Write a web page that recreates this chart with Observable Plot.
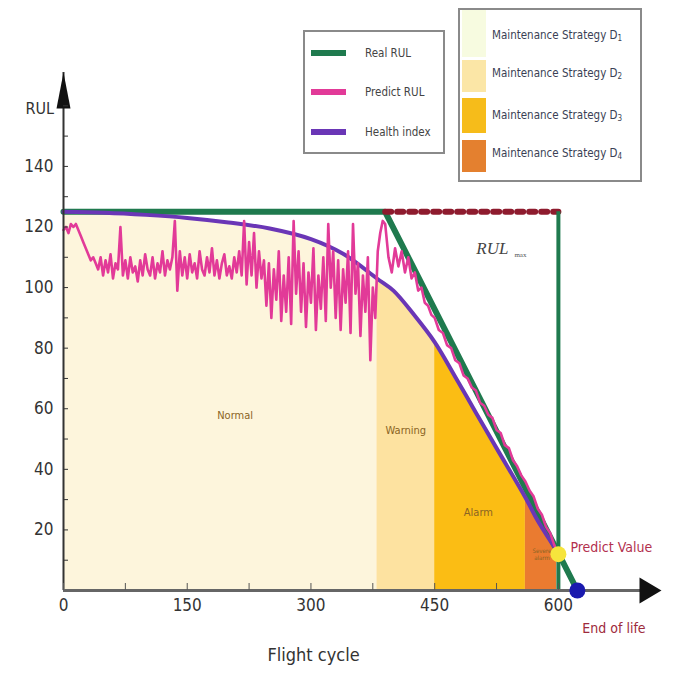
<!DOCTYPE html>
<html><head><meta charset="utf-8">
<script src="https://cdn.jsdelivr.net/npm/d3@7"></script>
<script src="https://cdn.jsdelivr.net/npm/@observablehq/plot@0.6"></script>
<style>
body{margin:0;background:#fff;}
#wrap{position:relative;width:673px;height:682px;overflow:hidden;font-family:"Liberation Sans Narrow","DejaVu Sans Condensed","Liberation Sans",sans-serif;}
#wrap svg{position:absolute;left:0;top:0;}
.box{position:absolute;border:2px solid #8a8a8a;background:#fff;box-sizing:border-box;}
.it{position:absolute;}
.tx{position:absolute;font-size:11.5px;color:#444;white-space:nowrap;line-height:12px;}
.tx sub{font-size:8px;vertical-align:-2px;line-height:0;}
</style></head>
<body><div id="wrap"></div>
<script>
// ---- data ----
const predCycle = [0,3,6,9,12,15,18,21,24,27,30,33,36,39,
42,45,48,51,54,57,60,63,66,69,72,75,78,81,84,87,90,93,96,99,102,105,108,111,114,117,120,123,126,129,132,
135,138,141,144,147,150,153,156,159,162,165,168,171,174,177,180,183,186,189,192,195,198,201,204,207,210,213,216,
219,222,225,228,231,234,237,240,243,246,249,252,255,258,261,264,267,270,273,276,279,282,285,288,291,294,297,300,
303,306,309,312,315,318,321,324,327,330,333,336,339,342,345,348,351,354,357,360,363,366,369,372,375,378,381,384,387,
390,394,398,402,406,410,414,418,422,426,430,434,438,442,446,450,455,460,465,470,475,480,485,490,495,500,505,510,515,520,
525,530,535,540,545,550,555,560,565,570,575,580,585,590,595,600];
const predRUL = [119,120,118,121,120,121,119,117,115,113,111,109,110,108,
106,110,104,109,105,111,103,108,106,120,104,109,103,110,105,107,102,109,104,111,106,104,110,103,108,105,112,104,109,106,110,
122,99,112,104,110,103,111,105,108,103,112,106,104,110,105,113,104,109,103,108,111,104,107,103,110,105,112,104,
122,101,115,104,118,100,112,103,109,94,108,90,106,96,112,89,104,92,110,88,122,98,112,92,108,87,105,95,
113,86,104,93,110,89,121,100,112,90,109,86,106,95,112,85,121,98,108,84,104,92,110,76,100,90,112,118,122,
121,110,105,113,107,112,105,110,103,105,99,100,95,94,91,90,86,85,81,80,76,75,71,70,67,66,62,61,58,57,
53,52,48,47,43,41,38,36,33,31,27,25,21,19,15,12];

const healthCycle = [0,50,100,150,200,250,300,340,380,400,425,450,475,500,525,560,575,598,600];
const healthIndex = [125,124.7,124,123,121.5,119.5,116,111,103,99,91,82,70.5,58.7,47,30.7,23,13,12];

const realCycle = [0,390,623];
const realRUL = [125,125,0];

const rulMaxCycle = [390,600];
const rulMaxValue = 125;

const zoneNames = ["Normal","Warning","Alarm","Severe\nalarm"];
const zoneStart = [0,380,450,560];
const zoneEnd = [380,450,560,598];
const zoneLabelX = [208,415,503,580];
const zoneLabelY = [58,53,26,12];

const predictPoint = {cycle: 600, rul: 12};
const endOfLife = {cycle: 623, rul: 0};

const xTicks = [0,75,150,225,300,375,450,525,600];
const xTickLabels = [0,150,300,450,600];
const yTicks = [10,20,30,40,50,60,70,80,90,100,110,120,130,140,150,160];
const yTickLabels = [20,40,60,80,100,120,140];

const legendLines = ["Real RUL","Predict RUL","Health index"];
const legendZones = ["Maintenance Strategy D<sub>1</sub>","Maintenance Strategy D<sub>2</sub>","Maintenance Strategy D<sub>3</sub>","Maintenance Strategy D<sub>4</sub>"];

// ---- styles ----
const zoneColors = ["#fdf5dc","#fde2a0","#fbbd14","#ea7b30"];
const legendZoneColors = ["#f7fbe0","#fbe6a6","#f6bc1a","#e4802f"];
const lineColors = ["#1f7a4e","#e23a98","#6a36b6"];
const xMax = 725, yMax = 171;
const FONT = '"Liberation Sans Narrow","DejaVu Sans Condensed","Liberation Sans",sans-serif';

// ---- build tables ----
const pred = predCycle.map((c,i)=>({cycle:c, rul:predRUL[i]}));
const health = healthCycle.map((c,i)=>({cycle:c, v:healthIndex[i]}));
const real = realCycle.map((c,i)=>({cycle:c, rul:realRUL[i]}));
const rulMax = rulMaxCycle.map(c=>({cycle:c, rul:rulMaxValue}));
const zoneLabels = zoneNames.map((n,i)=>({name:n, x:zoneLabelX[i], y:zoneLabelY[i]}));

const arrowRight = {draw(ctx){ctx.moveTo(0,0);ctx.lineTo(-22,-13);ctx.lineTo(-22,13);ctx.closePath();}};
const arrowUp = {draw(ctx){ctx.moveTo(0,0);ctx.lineTo(7,36);ctx.lineTo(-7,36);ctx.closePath();}};

const zoneAreas = zoneNames.map((n,i)=>Plot.areaY(
  health.filter(d=>d.cycle>=zoneStart[i] && d.cycle<=zoneEnd[i]),
  {x:"cycle", y:"v", fill:zoneColors[i], curve:"catmull-rom"}));

const plot = Plot.plot({
  width:673, height:682,
  marginLeft:63, marginRight:12, marginTop:72, marginBottom:92,
  x:{domain:[0,xMax], axis:null},
  y:{domain:[0,yMax], axis:null},
  style:{fontFamily:FONT, background:"transparent", overflow:"visible"},
  marks:[
    ...zoneAreas,
    Plot.line(real, {x:"cycle", y:"rul", stroke:lineColors[0], strokeWidth:6}),
    Plot.line(health, {x:"cycle", y:"v", stroke:lineColors[2], strokeWidth:4, curve:"catmull-rom"}),
    Plot.line(pred, {x:"cycle", y:"rul", stroke:lineColors[1], strokeWidth:2.6, strokeLinejoin:"round"}),
    Plot.line(rulMax, {x:"cycle", y:"rul", stroke:"#8e1b2e", strokeWidth:6, strokeDasharray:"6,6"}),
    Plot.ruleX([rulMaxCycle[1]], {y1:0, y2:rulMaxValue, stroke:lineColors[0], strokeWidth:4}),
    Plot.text(zoneLabels, {x:"x", y:"y", text:"name", fill:"#8a6424", fontSize:d=>d.name.startsWith("Severe")?6:11, lineHeight:1.1}),
    Plot.text(["RUL"], {x:()=>520, y:()=>113, text:d=>d, fontFamily:"Liberation Serif, serif", fontStyle:"italic", fontSize:17, fill:"#444"}),
    Plot.text(["max"], {x:()=>520, y:()=>113, text:d=>d, dx:28, dy:7, fontFamily:"Liberation Serif, serif", fontSize:7, fill:"#555"}),
    Plot.ruleX([0], {y1:0, y2:yMax, stroke:"#333", strokeWidth:2}),
    Plot.ruleY([0], {x1:0, x2:xMax-10, stroke:"#666", strokeWidth:3}),
    Plot.dot([0], {x:()=>xMax, y:()=>0, symbol:arrowRight, fill:"#111", stroke:null, r:5}),
    Plot.dot([0], {x:()=>0, y:()=>yMax, symbol:arrowUp, fill:"#111", stroke:null, r:5}),
    Plot.dot([predictPoint], {x:"cycle", y:"rul", r:8, fill:"#f6e43c", stroke:null}),
    Plot.dot([endOfLife], {x:"cycle", y:"rul", r:8, fill:"#1a1aae", stroke:null}),
    Plot.text([predictPoint], {x:"cycle", y:"rul", text:()=>"Predict Value", dx:12, dy:-7, textAnchor:"start", fontSize:14, fill:"#b3304e"}),
    Plot.text([endOfLife], {x:"cycle", y:"rul", text:()=>"End of life", dx:5, dy:38, textAnchor:"start", fontSize:14, fill:"#9e2a3c"}),
    Plot.axisY({ticks:yTicks, tickSize:-5, tickFormat:()=>"", stroke:"#333"}),
    Plot.axisY({ticks:yTickLabels, tickSize:0, tickPadding:10, fontSize:17, fill:"#333", label:null}),
    Plot.axisX({ticks:xTicks, tickSize:-7, tickFormat:()=>"", stroke:"#555"}),
    Plot.axisX({ticks:xTickLabels, tickSize:0, tickPadding:8, fontSize:17, fill:"#333", label:null}),
    Plot.text(["RUL"], {frameAnchor:"top-left", text:d=>d, dx:-38, dy:30, fontSize:16, fill:"#333"}),
    Plot.text(["Flight cycle"], {frameAnchor:"bottom", text:d=>d, dx:-49, dy:70, fontSize:18, fill:"#333"})
  ]
});
const wrap = document.getElementById("wrap");
wrap.appendChild(plot);

// legend 1
const b1 = document.createElement("div");
b1.className="box"; Object.assign(b1.style,{left:"303px",top:"30px",width:"142px",height:"124px"});
[21,60,100].forEach((c,i)=>{
  const s=document.createElement("div"); s.className="it";
  Object.assign(s.style,{left:"6px",top:(c-3)+"px",width:"35px",height:"6px",background:lineColors[i]});
  b1.appendChild(s);
  const t=document.createElement("div"); t.className="tx"; t.innerHTML=legendLines[i];
  Object.assign(t.style,{left:"60px",top:(c-6)+"px"}); b1.appendChild(t);
});
wrap.appendChild(b1);
// legend 2
const b2 = document.createElement("div");
b2.className="box"; Object.assign(b2.style,{left:"458px",top:"8px",width:"184px",height:"174px"});
const sw=[[0,47],[50,32],[88,35],[130,32]], tc=[25,63,105,143];
legendZones.forEach((z,i)=>{
  const s=document.createElement("div"); s.className="it";
  Object.assign(s.style,{left:"2px",top:sw[i][0]+"px",width:"24px",height:sw[i][1]+"px",background:legendZoneColors[i]});
  b2.appendChild(s);
  const t=document.createElement("div"); t.className="tx"; t.innerHTML=z;
  Object.assign(t.style,{left:"32px",top:(tc[i]-6)+"px",color:"#3a3f55"}); b2.appendChild(t);
});
wrap.appendChild(b2);
</script></body></html>
